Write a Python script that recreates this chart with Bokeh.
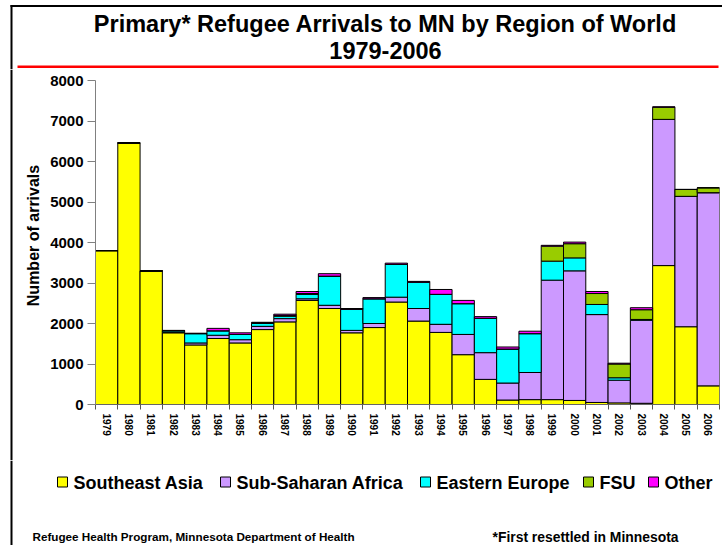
import math
from bokeh.plotting import figure
from bokeh.layouts import column, row
from bokeh.models import ColumnDataSource, FixedTicker, Range1d
from bokeh.core.properties import value
from bokeh.embed import file_html
from bokeh.resources import INLINE

# ---------------- data ----------------
years = [str(y) for y in range(1979, 2007)]
southeast_asia = [3800, 6460, 3300, 1770, 1470, 1630, 1520, 1850, 2040, 2570, 2370, 1770, 1900, 2530,
                  2060, 1780, 1230, 620, 110, 120, 120, 100, 50, 40, 30, 3430, 1920, 460]
sub_saharan_africa = [0, 0, 0, 10, 50, 80, 80, 80, 80, 40, 80, 60, 100, 120,
                      310, 200, 500, 660, 420, 670, 2950, 3200, 2170, 560, 2050, 3610, 3220, 4770]
eastern_europe = [0, 0, 0, 40, 230, 110, 130, 70, 60, 110, 720, 520, 610, 810,
                  650, 740, 760, 850, 840, 960, 470, 320, 250, 60, 20, 0, 0, 0]
fsu = [0, 0, 0, 0, 0, 0, 0, 20, 20, 20, 0, 0, 0, 0,
       0, 0, 0, 0, 0, 0, 370, 350, 270, 340, 240, 300, 170, 120]
other = [0, 0, 0, 10, 10, 60, 40, 10, 30, 50, 60, 20, 30, 30,
         20, 120, 80, 40, 50, 60, 20, 40, 50, 20, 50, 10, 0, 0]
series_names = ["Southeast Asia", "Sub-Saharan Africa", "Eastern Europe", "FSU", "Other"]
series_colors = ["#FFFF00", "#CC99FF", "#00FFFF", "#99CC00", "#FF00FF"]
y_ticks = [0, 1000, 2000, 3000, 4000, 5000, 6000, 7000, 8000]
title_lines = ["Primary* Refugee Arrivals to MN by Region of World", "1979-2006"]
y_title = "Number of arrivals"
footer_left = "Refugee Health Program, Minnesota Department of Health"
footer_right = "*First resettled in Minnesota"

FONT = "Liberation Sans"
W, H = 722, 545
TOP_H = 69          # title strip height
MID_H = 391         # chart strip height
BOT_H = H - TOP_H - MID_H
LEFT_W = 45         # strip holding the y title

# legend swatch left edges (page px)
legend_x = [57, 220, 420, 583, 648]


def blank(width, height, x0, x1, y_top, y_bottom):
    """A figure whose data coordinates equal page pixels (y downward)."""
    f = figure(width=width, height=height, x_range=Range1d(x0, x1), y_range=Range1d(y_bottom, y_top),
               output_backend="svg", toolbar_location=None, x_axis_location=None, y_axis_location=None,
               min_border=0, min_border_left=0, min_border_right=0, min_border_top=0, min_border_bottom=0,
               frame_align=False)
    f.xgrid.visible = False
    f.ygrid.visible = False
    f.outline_line_color = None
    f.background_fill_color = "white"
    f.border_fill_color = "white"
    return f


# ---------------- title strip ----------------
top = blank(W, TOP_H, 0, W, 0, TOP_H)
top.quad(left=[10], right=[W], top=[4.5], bottom=[6.5], fill_color="black", line_color=None)
top.quad(left=[10], right=[12], top=[4.5], bottom=[TOP_H], fill_color="black", line_color=None)
top.text(x=[385, 385], y=[23, 50], text=title_lines, text_align="center", text_baseline="alphabetic",
         text_font=value(FONT), text_font_style="bold", text_font_size="23.5px", text_color="black")
top.quad(left=[17], right=[718], top=[65], bottom=[67.5], fill_color="#FF0000", line_color=None)

# ---------------- y-title strip ----------------
left = blank(LEFT_W, MID_H, 0, LEFT_W, TOP_H, TOP_H + MID_H)
left.quad(left=[10], right=[12], top=[TOP_H], bottom=[TOP_H + MID_H], fill_color="black", line_color=None)
left.text(x=[33], y=[235], text=[y_title], angle=math.pi / 2, text_align="center", text_baseline="middle",
          text_font=value(FONT), text_font_style="bold", text_font_size="16px", text_color="black")

# ---------------- main chart ----------------
n = len(years)
source = ColumnDataSource(dict(x=list(range(n)), year=years,
                               sea=southeast_asia, ssa=sub_saharan_africa,
                               ee=eastern_europe, fsu=fsu, other=other))

p = figure(width=W - LEFT_W, height=MID_H, x_range=Range1d(-0.5, n - 0.5), y_range=Range1d(0, 8000),
           output_backend="svg", toolbar_location=None, frame_align=False,
           min_border_left=50, min_border_right=3, min_border_top=11, min_border_bottom=56)
p.xgrid.visible = False
p.ygrid.visible = False
p.outline_line_color = None
p.background_fill_color = "white"
p.border_fill_color = "white"

renderers = p.vbar_stack(["sea", "ssa", "ee", "fsu", "other"], x="x", width=1.0, source=source,
                         fill_color=series_colors, line_color="black", line_width=1)

xa = p.xaxis[0]
xa.ticker = FixedTicker(ticks=list(range(n)), minor_ticks=[i - 0.5 for i in range(n + 1)])
xa.major_label_overrides = {i: y for i, y in enumerate(years)}
xa.major_tick_out = 0
xa.major_tick_in = 0
xa.minor_tick_out = 5
xa.minor_tick_in = 0
xa.minor_tick_line_color = "#555555"
xa.axis_line_color = "#666666"
xa.major_label_orientation = "vertical"
xa.major_label_standoff = 4
xa.major_label_text_font = FONT
xa.major_label_text_font_style = "bold"
xa.major_label_text_font_size = "10px"
xa.major_label_text_color = "black"

ya = p.yaxis[0]
ya.ticker = FixedTicker(ticks=y_ticks, minor_ticks=[])
ya.major_tick_out = 8
ya.major_tick_in = 0
ya.minor_tick_out = 0
ya.minor_tick_in = 0
ya.axis_line_color = "#808080"
ya.major_tick_line_color = "#808080"
ya.major_label_standoff = 4
ya.major_label_text_font = FONT
ya.major_label_text_font_style = "bold"
ya.major_label_text_font_size = "15px"
ya.major_label_text_color = "black"

# ---------------- legend + footer strip ----------------
y0 = TOP_H + MID_H
bot = blank(W, BOT_H, 0, W, y0, H)
bot.quad(left=[10], right=[12], top=[y0], bottom=[H], fill_color="black", line_color=None)
bot.quad(left=legend_x, right=[v + 10 for v in legend_x], top=[476.5] * len(legend_x),
         bottom=[486.5] * len(legend_x), fill_color=series_colors, line_color="black", line_width=1)
bot.text(x=[v + 16 for v in legend_x], y=[482] * len(legend_x), text=series_names,
         text_align="left", text_baseline="middle",
         text_font=value(FONT), text_font_style="bold", text_font_size="18px", text_color="black")
bot.text(x=[32], y=[536], text=[footer_left], text_align="left", text_baseline="alphabetic",
         text_font=value(FONT), text_font_style="bold", text_font_size="11.7px", text_color="black")
bot.text(x=[492], y=[536], text=[footer_right], text_align="left", text_baseline="alphabetic",
         text_font=value(FONT), text_font_style="bold", text_font_size="13.9px", text_color="black")

layout = column(top, row(left, p), bot)
open("out.html", "w").write(file_html(layout, INLINE))
